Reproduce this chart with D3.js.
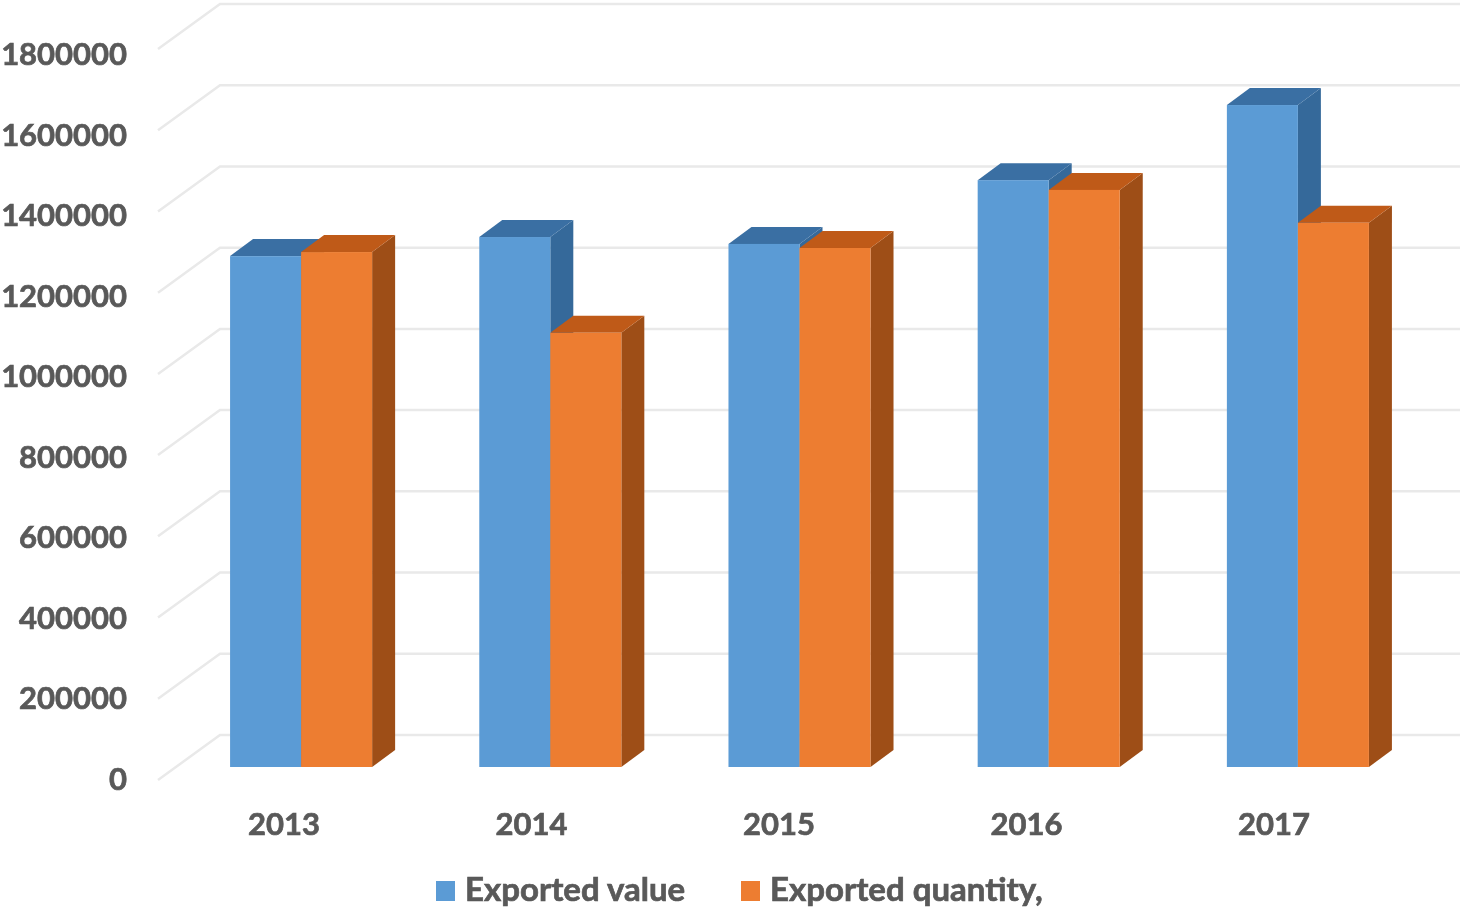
<!DOCTYPE html>
<html><head><meta charset="utf-8">
<style>html,body{margin:0;padding:0;background:#fff}svg{display:block;filter:blur(0.6px)}text{font-family:Lato,"Open Sans",sans-serif;font-weight:700;fill:#595959;stroke:#595959;stroke-width:0.7px}</style>
<script src="https://cdn.jsdelivr.net/npm/d3@7/dist/d3.min.js"></script>
</head><body><svg id="c" width="1464" height="910"></svg>
<script>
const years=["2013","2014","2015","2016","2017"];
const exportedValue=[1258000,1305000,1288000,1445000,1630000];
const exportedQuantity=[1268000,1069000,1278000,1421000,1340000];
const seriesNames=["Exported value","Exported quantity,"];
const yTicks=[0,200000,400000,600000,800000,1000000,1200000,1400000,1600000,1800000];

const svg=d3.select("#c");
const barY=d3.scaleLinear().domain([0,1800000]).range([767,36]);
const backY=d3.scaleLinear().domain([0,1800000]).range([735,4]);
const frontY=d3.scaleLinear().domain([0,1800000]).range([780,49]);
const labelY=d3.scaleLinear().domain([0,1800000]).range([779,54]);
const cat=d3.scaleBand().domain(years).range([177,1422]).paddingInner(0.43).paddingOuter(0.213);
const sub=d3.scaleBand().domain([0,1]).range([0,cat.bandwidth()]);
const labelX=d3.scalePoint().domain(years).range([284,1274]);
const dx=23,dy=-17;
const wallLeft=220,wallRight=1460,frontLeft=158;

// gridlines
const grid=svg.append("g").attr("fill","none").attr("stroke","#e9e9e9").attr("stroke-width",2.5);
yTicks.forEach(t=>{
  grid.append("path").attr("d",`M${frontLeft},${frontY(t)}L${wallLeft},${backY(t)}L${wallRight},${backY(t)}`);
});

// axis labels
const yG=svg.append("g").attr("text-anchor","end").style("font-size","31px");
yTicks.forEach(t=>{
  yG.append("text").attr("x",127).attr("y",labelY(t)+11).text(t);
});
const xG=svg.append("g").attr("text-anchor","middle").style("font-size","31px");
years.forEach(y=>{
  xG.append("text").attr("x",labelX(y)).attr("y",835).text(y);
});

// bars
const palettes=[
  {front:"#5b9bd5",top:"#3a6fa3",side:"#35699a"},
  {front:"#ed7d31",top:"#bf5a18",side:"#9e4e17"}
];
const series=[exportedValue,exportedQuantity];
years.forEach((yr,i)=>{
  const g=svg.append("g");
  series.forEach((vals,s)=>{
    const p=palettes[s];
    const x0=cat(yr)+sub(s),x1=x0+sub.bandwidth();
    const yT=barY(vals[i]),yB=barY(0);
    g.append("path").attr("fill",p.side)
      .attr("d",`M${x1},${yT}L${x1+dx},${yT+dy}L${x1+dx},${yB+dy}L${x1},${yB}Z`);
    g.append("path").attr("fill",p.top)
      .attr("d",`M${x0},${yT}L${x0+dx},${yT+dy}L${x1+dx},${yT+dy}L${x1},${yT}Z`);
    g.append("rect").attr("fill",p.front)
      .attr("x",x0).attr("y",yT).attr("width",x1-x0).attr("height",yB-yT);
  });
});

// legend
const legendX=[436,741],legendTextX=[465,770];
seriesNames.forEach((n,s)=>{
  svg.append("rect").attr("x",legendX[s]).attr("y",881).attr("width",19).attr("height",20).attr("fill",palettes[s].front);
  svg.append("text").attr("x",legendTextX[s]).attr("y",901).style("font-size","33px").text(n);
});
</script></body></html>
